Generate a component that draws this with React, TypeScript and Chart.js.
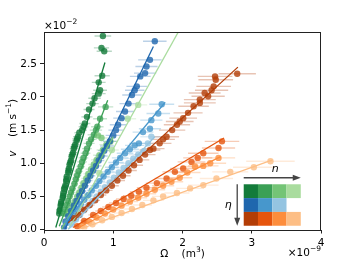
import React, { useEffect, useRef } from 'react';
import { Chart, registerables } from 'chart.js';
Chart.register(...registerables);

type P = [number, number, number]; // [Omega (1e-9 m^3), v (1e-2 m/s), x error]

const xTickValues = [0, 1, 2, 3, 4];
const yTickValues = [0, 0.5, 1.0, 1.5, 2.0, 2.5];
const xRange = [0, 4];
const yRange = [0, 2.98];

// Greens (n increasing)
const g1: P[] = [
  [0.22,0.24,0.03],[0.225,0.28,0.03],[0.23,0.30,0.03],[0.24,0.36,0.03],[0.245,0.39,0.03],[0.25,0.42,0.03],[0.27,0.48,0.04],[0.275,0.51,0.04],[0.28,0.55,0.04],[0.29,0.61,0.04],[0.30,0.64,0.04],[0.31,0.67,0.04],[0.32,0.73,0.04],[0.325,0.76,0.05],[0.33,0.80,0.05],[0.35,0.86,0.05],[0.355,0.89,0.05],[0.36,0.92,0.05],[0.37,0.98,0.05],[0.38,1.01,0.05],[0.39,1.04,0.05],[0.40,1.10,0.05],[0.41,1.13,0.06],[0.42,1.16,0.06],[0.43,1.22,0.06],[0.44,1.25,0.06],[0.45,1.28,0.06],[0.47,1.34,0.06],[0.48,1.37,0.07],[0.49,1.40,0.07],[0.51,1.46,0.07],[0.55,1.50,0.07],[0.57,1.55,0.07],[0.59,1.60,0.08],[0.62,1.70,0.08],[0.65,1.81,0.08],[0.70,1.90,0.09],[0.73,1.98,0.09],[0.79,2.05,0.10],[0.81,2.10,0.10],[0.79,2.22,0.10],[0.84,2.32,0.11],[0.87,2.69,0.11],[0.83,2.74,0.11],[0.85,2.92,0.12]
];
const g2: P[] = [
  [0.29,0.24,0.03],[0.31,0.30,0.04],[0.33,0.37,0.04],[0.35,0.43,0.04],[0.37,0.50,0.04],[0.39,0.56,0.05],[0.41,0.62,0.05],[0.44,0.69,0.05],[0.46,0.76,0.05],[0.48,0.82,0.06],[0.50,0.88,0.06],[0.53,0.95,0.06],[0.55,1.02,0.07],[0.57,1.08,0.07],[0.60,1.15,0.07],[0.62,1.22,0.07],[0.65,1.30,0.08],[0.68,1.36,0.08],[0.72,1.43,0.09],[0.75,1.50,0.09],[0.77,1.55,0.09],[0.81,1.67,0.10],[0.89,1.85,0.11]
];
const g3: P[] = [
  [0.36,0.24,0.04],[0.39,0.30,0.04],[0.42,0.37,0.05],[0.45,0.43,0.05],[0.48,0.50,0.05],[0.51,0.56,0.06],[0.54,0.63,0.06],[0.57,0.70,0.06],[0.61,0.77,0.07],[0.64,0.84,0.07],[0.68,0.91,0.08],[0.72,0.98,0.08],[0.76,1.05,0.08],[0.80,1.12,0.09],[0.85,1.20,0.09],[0.90,1.28,0.10],[0.96,1.33,0.10],[0.83,1.38,0.09],[0.78,1.42,0.09]
];
const g4: P[] = [
  [0.62,0.50,0.07],[0.80,0.85,0.08],[0.98,1.20,0.10],[1.21,1.67,0.12],[1.36,1.88,0.13]
];
// Blues
const b1: P[] = [
  [0.29,0.03,0.03],[0.31,0.12,0.03],[0.35,0.20,0.04],[0.39,0.28,0.04],[0.43,0.36,0.05],[0.47,0.43,0.05],[0.51,0.51,0.05],[0.55,0.58,0.06],[0.59,0.66,0.06],[0.63,0.74,0.07],[0.67,0.81,0.07],[0.71,0.89,0.08],[0.75,0.96,0.08],[0.79,1.04,0.08],[0.83,1.11,0.09],[0.87,1.19,0.09],[0.91,1.26,0.10],[0.95,1.33,0.10],[1.00,1.42,0.11],[1.04,1.50,0.11],[1.07,1.58,0.12],[1.12,1.68,0.12],[1.17,1.78,0.13],[1.22,1.90,0.13],[1.27,2.03,0.14],[1.31,2.10,0.14],[1.34,2.16,0.15],[1.39,2.31,0.15],[1.46,2.36,0.16],[1.48,2.46,0.16],[1.53,2.56,0.17],[1.60,2.84,0.17]
];
const b2: P[] = [
  [0.33,0.10,0.04],[0.38,0.17,0.04],[0.43,0.24,0.05],[0.48,0.31,0.05],[0.53,0.38,0.06],[0.58,0.45,0.06],[0.64,0.52,0.07],[0.69,0.59,0.07],[0.75,0.66,0.08],[0.80,0.73,0.08],[0.86,0.80,0.09],[0.92,0.87,0.10],[0.98,0.94,0.10],[1.04,1.01,0.11],[1.10,1.08,0.12],[1.17,1.15,0.12],[1.24,1.21,0.13],[1.31,1.27,0.14],[1.37,1.30,0.14],[1.43,1.47,0.15],[1.53,1.52,0.16],[1.55,1.65,0.16],[1.65,1.75,0.17],[1.70,1.89,0.18]
];
const b3: P[] = [
  [0.40,0.08,0.04],[0.46,0.15,0.05],[0.52,0.22,0.05],[0.58,0.29,0.06],[0.64,0.36,0.07],[0.70,0.43,0.07],[0.76,0.50,0.08],[0.82,0.57,0.08],[0.88,0.64,0.09],[0.95,0.71,0.10],[1.01,0.78,0.10],[1.08,0.86,0.11],[1.15,0.93,0.12],[1.22,1.00,0.12],[1.29,1.07,0.13],[1.36,1.13,0.14],[1.44,1.18,0.15],[1.50,1.30,0.15],[1.55,1.40,0.16]
];
// Oranges
const o1: P[] = [
  [0.43,0.17,0.04],[0.50,0.22,0.05],[0.58,0.30,0.06],[0.66,0.37,0.07],[0.74,0.44,0.07],[0.82,0.52,0.08],[0.90,0.59,0.09],[0.98,0.66,0.10],[1.06,0.74,0.11],[1.14,0.81,0.11],[1.22,0.89,0.12],[1.30,0.97,0.13],[1.38,1.05,0.14],[1.46,1.13,0.15],[1.53,1.20,0.15],[1.58,1.22,0.16],[1.67,1.30,0.17],[1.72,1.36,0.17],[1.77,1.40,0.18],[1.85,1.50,0.19],[1.92,1.58,0.19],[1.96,1.63,0.20],[2.01,1.68,0.20],[2.08,1.76,0.21],[2.16,1.86,0.22],[2.25,1.91,0.23],[2.25,1.96,0.23],[2.32,2.06,0.23],[2.37,2.01,0.24],[2.42,2.10,0.24],[2.45,2.16,0.25],[2.48,2.26,0.25],[2.47,2.31,0.25],[2.79,2.35,0.27]
];
const o2: P[] = [
  [0.48,0.05,0.05],[0.58,0.13,0.06],[0.71,0.22,0.07],[0.82,0.28,0.08],[0.93,0.34,0.09],[1.04,0.40,0.10],[1.15,0.46,0.11],[1.26,0.51,0.12],[1.37,0.57,0.13],[1.48,0.63,0.14],[1.63,0.70,0.16],[1.77,0.77,0.17],[1.89,0.87,0.18],[2.01,0.92,0.19],[2.13,1.02,0.20],[2.22,1.08,0.21],[2.30,1.15,0.22],[2.52,1.23,0.24],[2.57,1.33,0.25]
];
const o3: P[] = [
  [0.55,0.06,0.06],[0.65,0.12,0.07],[0.76,0.18,0.08],[0.88,0.24,0.09],[1.00,0.30,0.10],[1.12,0.36,0.11],[1.24,0.42,0.12],[1.36,0.48,0.13],[1.48,0.54,0.14],[1.60,0.60,0.15],[1.72,0.66,0.16],[1.84,0.72,0.17],[1.96,0.78,0.18],[2.07,0.86,0.19],[2.18,0.95,0.20],[2.30,0.96,0.22],[2.40,1.00,0.23],[2.52,1.08,0.24]
];
const o4: P[] = [
  [0.58,0.03,0.06],[0.70,0.08,0.07],[0.84,0.14,0.08],[0.98,0.19,0.10],[1.12,0.25,0.11],[1.27,0.31,0.12],[1.42,0.37,0.14],[1.58,0.44,0.15],[1.72,0.50,0.16],[1.92,0.55,0.18],[2.11,0.62,0.20],[2.30,0.67,0.22],[2.49,0.77,0.24],[2.69,0.87,0.26],[3.03,0.94,0.30],[3.27,1.03,0.35]
];

// Fit lines (two end points each)
const fitG1 = [[0.17, 0.03], [0.88, 2.52]];
const fitG2 = [[0.22, 0.05], [0.92, 1.95]];
const fitG3 = [[0.25, 0.0], [1.0, 1.4]];
const fitG4 = [[0.35, 0.0], [1.95, 3.0]];
const fitB1 = [[0.3, 0.0], [1.58, 2.76]];
const fitB2 = [[0.3, 0.1], [1.75, 1.92]];
const fitB3 = [[0.35, 0.0], [1.6, 1.4]];
const fitO1 = [[0.35, 0.1], [2.8, 2.45]];
const fitO2 = [[0.42, 0.03], [2.6, 1.38]];
const fitO3 = [[0.5, 0.03], [2.55, 1.1]];
const fitO4 = [[0.5, 0.0], [3.3, 1.05]];

const greens = ['#137b3a', '#3ba055', '#74c476', '#a9dc9e'];
const blues = ['#1f67ae', '#4797cc', '#94c4e1'];
const oranges = ['#b33d06', '#e6550d', '#fd8d3c', '#fdbe85'];

const seriesList = [
  { data: o4, fit: fitO4, color: oranges[3] },
  { data: o3, fit: fitO3, color: oranges[2] },
  { data: o2, fit: fitO2, color: oranges[1] },
  { data: o1, fit: fitO1, color: oranges[0] },
  { data: b3, fit: fitB3, color: blues[2] },
  { data: b2, fit: fitB2, color: blues[1] },
  { data: b1, fit: fitB1, color: blues[0] },
  { data: g4, fit: fitG4, color: greens[3] },
  { data: g3, fit: fitG3, color: greens[2] },
  { data: g2, fit: fitG2, color: greens[1] },
  { data: g1, fit: fitG1, color: greens[0] },
];

const hexA = (h: string, a: number) => {
  const n = parseInt(h.slice(1), 16);
  return `rgba(${(n >> 16) & 255},${(n >> 8) & 255},${n & 255},${a})`;
};

const FONT = '"DejaVu Sans", sans-serif';

const errPlugin = {
  id: 'errbars',
  beforeDatasetsDraw(chart: any) {
    const { ctx, chartArea: a, scales } = chart;
    const x = scales.x, y = scales.y;
    ctx.save();
    ctx.beginPath();
    ctx.rect(a.left, a.top, a.right - a.left, a.bottom - a.top);
    ctx.clip();
    chart.data.datasets.forEach((ds: any) => {
      if (!ds.errColor) return;
      ctx.strokeStyle = ds.errColor;
      ctx.lineWidth = 1.4;
      ds.data.forEach((p: any) => {
        const py = y.getPixelForValue(p.y);
        ctx.beginPath();
        ctx.moveTo(x.getPixelForValue(p.x - p.e), py);
        ctx.lineTo(x.getPixelForValue(p.x + p.e), py);
        ctx.stroke();
      });
    });
    ctx.restore();
  },
};

function drawParts(ctx: CanvasRenderingContext2D, parts: { t: string; f: string; dy?: number }[], cx: number, cy: number) {
  let total = 0;
  parts.forEach((p) => { ctx.font = p.f; total += ctx.measureText(p.t).width; });
  let x = cx - total / 2;
  ctx.textBaseline = 'middle';
  ctx.textAlign = 'left';
  parts.forEach((p) => {
    ctx.font = p.f;
    ctx.fillText(p.t, x, cy + (p.dy || 0));
    x += ctx.measureText(p.t).width;
  });
}

const decorPlugin = {
  id: 'decor',
  afterDraw(chart: any) {
    const { ctx, chartArea: a } = chart;
    const w = a.right - a.left, h = a.bottom - a.top;
    ctx.save();
    // frame
    ctx.strokeStyle = '#222';
    ctx.lineWidth = 1;
    ctx.strokeRect(Math.round(a.left) + 0.5, Math.round(a.top) + 0.5, Math.round(w) - 1, Math.round(h));
    ctx.fillStyle = '#000';
    const fN = `10.5px ${FONT}`;
    const fI = `italic 10.5px ${FONT}`;
    const fS = `7.5px ${FONT}`;
    // x title
    drawParts(ctx, [{ t: 'Ω', f: fN }, { t: '    (m', f: fN }, { t: '3', f: fS, dy: -4 }, { t: ')', f: fN }], (a.left + a.right) / 2, a.bottom + 25);
    // y title
    ctx.save();
    ctx.translate(a.left - 31, (a.top + a.bottom) / 2 - 3);
    ctx.rotate(-Math.PI / 2);
    drawParts(ctx, [{ t: 'v', f: fI }, { t: '    (m s', f: fN }, { t: '−1', f: fS, dy: -4 }, { t: ')', f: fN }], 0, 0);
    ctx.restore();
    // offset texts
    ctx.textBaseline = 'middle';
    const t9a = '×10', t9b = '−9';
    ctx.font = fS; const w9b = ctx.measureText(t9b).width;
    ctx.font = fN; const w9a = ctx.measureText(t9a).width;
    const x9 = a.right - w9a - w9b;
    ctx.textAlign = 'left';
    ctx.fillText(t9a, x9, a.bottom + 24);
    ctx.font = fS; ctx.fillText(t9b, x9 + w9a, a.bottom + 20);
    ctx.font = fN; ctx.fillText('×10', a.left, a.top - 6);
    const w2 = ctx.measureText('×10').width;
    ctx.font = fS; ctx.fillText('−2', a.left + w2, a.top - 10);

    // inset legend
    const gx0 = a.left + 0.721 * w, gx1 = a.left + 0.927 * w;
    const gy0 = a.top + 0.771 * h, gy1 = a.top + 0.981 * h;
    const cw = (gx1 - gx0) / 4, ch = (gy1 - gy0) / 3;
    [greens, blues, oranges].forEach((row, r) => {
      row.forEach((c, i) => {
        ctx.fillStyle = c;
        ctx.fillRect(gx0 + i * cw, gy0 + r * ch, cw, ch);
      });
    });
    // arrows
    ctx.strokeStyle = '#444';
    ctx.fillStyle = '#444';
    ctx.lineWidth = 1.3;
    const ay = gy0 - 6.5;
    ctx.beginPath(); ctx.moveTo(gx0, ay); ctx.lineTo(gx1 - 4, ay); ctx.stroke();
    ctx.beginPath(); ctx.moveTo(gx1, ay); ctx.lineTo(gx1 - 8, ay - 3); ctx.lineTo(gx1 - 8, ay + 3); ctx.closePath(); ctx.fill();
    const ax = gx0 - 6.5;
    ctx.beginPath(); ctx.moveTo(ax, gy0); ctx.lineTo(ax, gy1 - 4); ctx.stroke();
    ctx.beginPath(); ctx.moveTo(ax, gy1); ctx.lineTo(ax - 3, gy1 - 8); ctx.lineTo(ax + 3, gy1 - 8); ctx.closePath(); ctx.fill();
    ctx.fillStyle = '#000';
    ctx.font = `italic 11px ${FONT}`;
    ctx.textAlign = 'center';
    ctx.fillText('n', (gx0 + gx1) / 2 + 3, ay - 9);
    ctx.fillText('η', ax - 9, (gy0 + gy1) / 2);
    ctx.restore();
  },
};

export default function App() {
  const ref = useRef<HTMLCanvasElement>(null);
  useEffect(() => {
    document.body.style.margin = '0';
    const datasets: any[] = [];
    seriesList.forEach((s) => {
      datasets.push({
        type: 'line',
        data: s.fit.map(([x, y]) => ({ x, y })),
        borderColor: s.color,
        borderWidth: 1.3,
        pointRadius: 0,
        showLine: true,
        fill: false,
      });
    });
    seriesList.forEach((s) => {
      datasets.push({
        type: 'scatter',
        data: s.data.map(([x, y, e]) => ({ x, y, e })),
        backgroundColor: hexA(s.color, 0.8),
        borderWidth: 0,
        pointRadius: 3.2,
        errColor: hexA(s.color, 0.3),
      });
    });
    const chart = new Chart(ref.current!, {
      type: 'scatter',
      data: { datasets },
      plugins: [errPlugin, decorPlugin],
      options: {
        animation: false,
        responsive: false,
        devicePixelRatio: 1,
        layout: { padding: { left: 0, top: 32, right: 36, bottom: 0 } },
        plugins: { legend: { display: false }, tooltip: { enabled: false } },
        scales: {
          x: {
            type: 'linear',
            min: xRange[0],
            max: xRange[1],
            afterFit: (s: any) => { s.height = 38.5; },
            afterBuildTicks: (s: any) => { s.ticks = xTickValues.map((v) => ({ value: v })); },
            ticks: { callback: (v: any) => String(v), color: '#000', font: { family: FONT, size: 10.5 }, padding: 3, maxRotation: 0 },
            grid: { drawOnChartArea: false, drawTicks: true, tickLength: 4, color: '#222' },
            border: { display: false },
          },
          y: {
            type: 'linear',
            min: yRange[0],
            max: yRange[1],
            afterFit: (s: any) => { s.width = 44; },
            afterBuildTicks: (s: any) => { s.ticks = yTickValues.map((v) => ({ value: v })); },
            ticks: { callback: (v: any) => Number(v).toFixed(1), color: '#000', font: { family: FONT, size: 10.5 }, padding: 3 },
            grid: { drawOnChartArea: false, drawTicks: true, tickLength: 4, color: '#222' },
            border: { display: false },
          },
        },
      } as any,
    });
    return () => chart.destroy();
  }, []);
  return <canvas ref={ref} width={357} height={268} style={{ display: 'block' }} />;
}
